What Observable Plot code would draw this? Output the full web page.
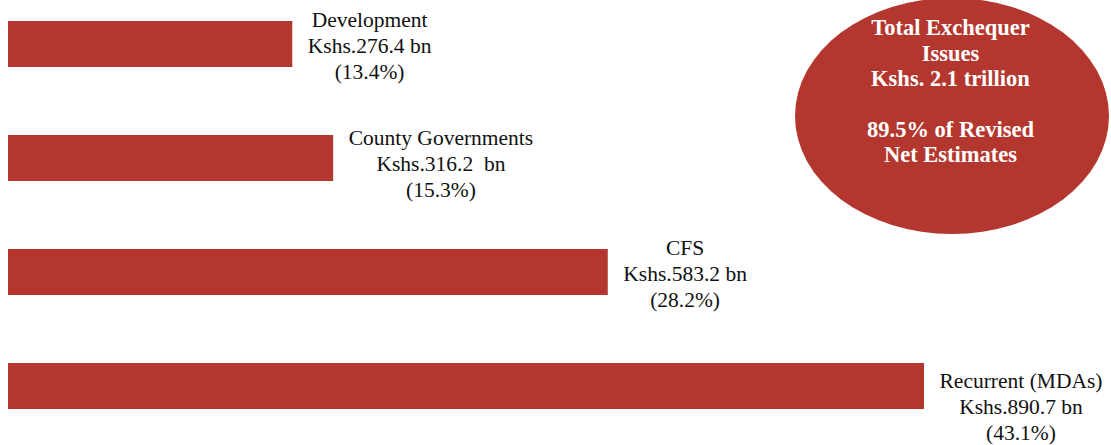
<!DOCTYPE html>
<html>
<head>
<meta charset="utf-8">
<script src="https://cdn.jsdelivr.net/npm/d3@7"></script>
<script src="https://cdn.jsdelivr.net/npm/@observablehq/plot@0.6"></script>
<style>
  html, body { margin: 0; padding: 0; background: #fff; }
  svg text { font-family: "Liberation Serif", "DejaVu Serif", serif; }
</style>
</head>
<body>
<div id="chart"></div>
<script>
const categories = ["Development", "County Governments", "CFS", "Recurrent (MDAs)"];
const amountLabels = ["Kshs.276.4 bn", "Kshs.316.2  bn", "Kshs.583.2 bn", "Kshs.890.7 bn"];
const values = [276.4, 316.2, 583.2, 890.7];
const shares = [13.4, 15.3, 28.2, 43.1];
const calloutLines = ["Total Exchequer", "Issues", "Kshs. 2.1 trillion", "", "89.5% of Revised", "Net Estimates"];

const BAR = "#b3372e";
const FONT = "Liberation Serif";
const LABEL_SIZE = 21.5;
const labelFont = `${LABEL_SIZE}px '${FONT}'`;

const data = categories.map((c, i) => ({
  category: c,
  value: values[i],
  label: `${c}\n${amountLabels[i]}\n(${shares[i].toFixed(1)}%)`
}));

const ctx = document.createElement("canvas").getContext("2d");
ctx.font = labelFont;
const halfWidth = d => d3.max(d.label.split("\n"), s => ctx.measureText(s).width) / 2;
const labelDy = d => d.category === "Recurrent (MDAs)" ? 19 : d.category === "County Governments" ? 4 : 0;

const chart = Plot.plot({
  width: 1111,
  height: 445,
  marginLeft: 8,
  marginRight: 187,
  marginTop: 0,
  marginBottom: 0,
  style: { fontFamily: `'${FONT}', serif`, background: "#fff" },
  x: { domain: [0, d3.max(values)], axis: null },
  y: { domain: categories, range: [20, 409], paddingInner: 0.6, paddingOuter: 0, axis: null },
  marks: [
    Plot.barX(data, { y: "category", x: "value", fill: BAR }),
    data.map(d => Plot.text([d], {
      x: "value", y: "category", text: "label",
      textAnchor: "middle", lineAnchor: "middle", lineHeight: 1.23,
      fontSize: LABEL_SIZE, fontFamily: FONT, fill: "#111",
      dx: halfWidth(d) + 15, dy: labelDy(d)
    })),
    (index, scales, values, dims) => {
      return d3.create("svg:ellipse")
        .attr("cx", 952).attr("cy", 116).attr("rx", 157).attr("ry", 118)
        .attr("fill", BAR).node();
    },
    Plot.text([calloutLines.join("\n")], {
      frameAnchor: "top-right", text: d => d,
      textAnchor: "middle", lineAnchor: "middle", lineHeight: 1.13,
      dx: 26, dy: 90, fontSize: 22.5, fontWeight: "bold", fontFamily: FONT, fill: "#fff"
    })
  ]
});

document.getElementById("chart").append(chart);
</script>
</body>
</html>
